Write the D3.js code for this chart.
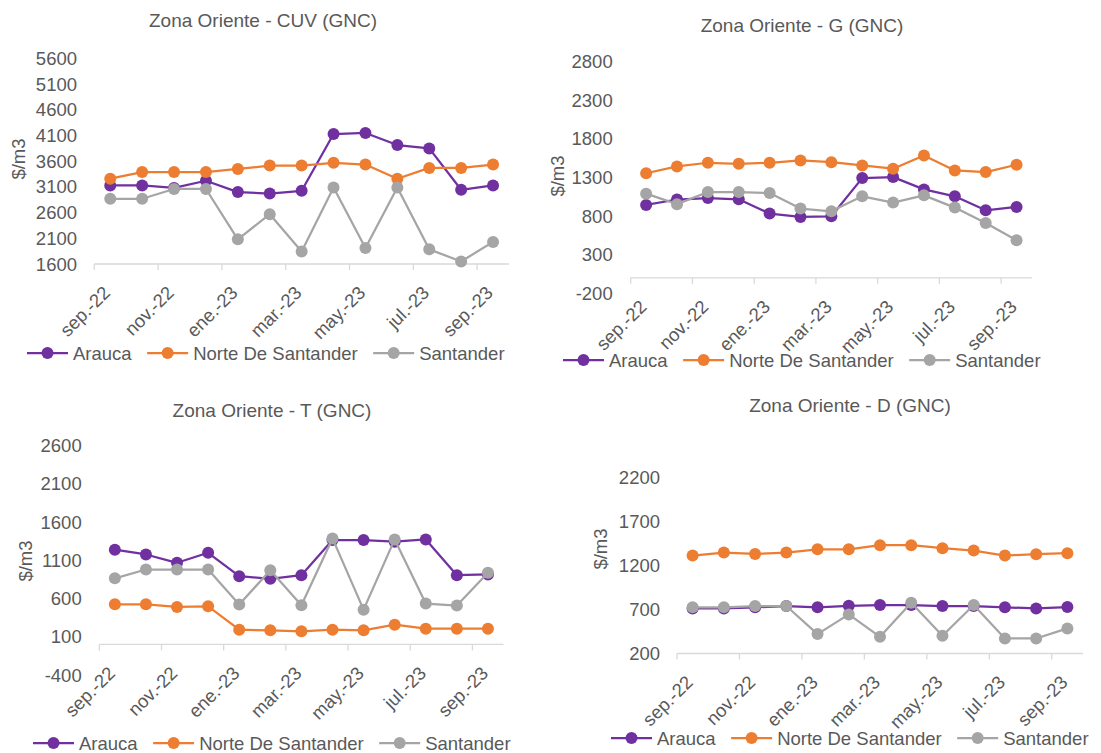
<!DOCTYPE html>
<html>
<head>
<meta charset="utf-8">
<script src="https://cdn.jsdelivr.net/npm/d3@7"></script>
<style>
  html, body { margin: 0; padding: 0; background: #ffffff; }
  svg { display: block; font-family: "Liberation Sans", Arial, sans-serif; }
</style>
</head>
<body>
<svg id="chart" width="1101" height="753"></svg>
<script>
// ---------- data ----------
const months = ["sep.-22","oct.-22","nov.-22","dic.-22","ene.-23","feb.-23","mar.-23","abr.-23","may.-23","jun.-23","jul.-23","ago.-23","sep.-23"];
const xTickLabels = ["sep.-22","nov.-22","ene.-23","mar.-23","may.-23","jul.-23","sep.-23"];
const seriesNames = ["Arauca","Norte De Santander","Santander"];

// CUV
const cuvArauca    = [3130,3130,3080,3220,3000,2970,3025,4130,4150,3915,3850,3045,3130];
const cuvNorte     = [3260,3390,3390,3390,3450,3515,3515,3570,3535,3260,3470,3470,3535];
const cuvSantander = [2870,2870,3060,3060,2080,2570,1845,3090,1910,3090,1885,1650,2030];
const cuvTicks = [1600,2100,2600,3100,3600,4100,4600,5100,5600];

// G
const gArauca    = [945,1015,1034,1017,833,789,798,1292,1305,1146,1056,875,918];
const gNorte     = [1355,1443,1491,1478,1491,1521,1499,1456,1414,1585,1392,1370,1465];
const gSantander = [1091,955,1112,1112,1099,897,862,1056,975,1069,910,711,488];
const gTicks = [-200,300,800,1300,1800,2300,2800];

// T
const tArauca    = [1240,1177,1068,1199,893,858,906,1366,1366,1344,1374,906,915];
const tNorte     = [525,525,490,499,193,184,171,193,184,258,206,206,206];
const tSantander = [865,980,980,980,521,972,512,1387,455,1374,534,508,937];
const tTicks = [-400,100,600,1100,1600,2100,2600];

// D
const dArauca    = [711,711,723,738,723,741,749,749,738,738,723,711,726];
const dNorte     = [1310,1344,1328,1344,1381,1381,1427,1427,1393,1366,1310,1325,1336];
const dSantander = [723,723,738,738,420,643,389,776,401,749,370,370,484];
const dTicks = [200,700,1200,1700,2200];

const colors = ["#7030A0","#ED7D31","#A5A5A5"];

// ---------- layout ----------
const charts = [
  { title: "Zona Oriente - CUV (GNC)", series: [cuvArauca,cuvNorte,cuvSantander], ticks: cuvTicks, base: 1600,
    x0: 94.3, x1: 509, yTop: 58.5, yBot: 264, labelX: 77, ylab: [18,159], titlePos: [263,20], legend: [27,353] },
  { title: "Zona Oriente - G (GNC)", series: [gArauca,gNorte,gSantander], ticks: gTicks, base: 0,
    x0: 630.7, x1: 1032, yTop: 61.7, yBot: 293.3, labelX: 612.7, ylab: [557,176], titlePos: [802,25], legend: [563,360] },
  { title: "Zona Oriente - T (GNC)", series: [tArauca,tNorte,tSantander], ticks: tTicks, base: 0,
    x0: 99.3, x1: 503.5, yTop: 445.7, yBot: 675, labelX: 81.7, ylab: [25,561], titlePos: [272,410], legend: [33,743] },
  { title: "Zona Oriente - D (GNC)", series: [dArauca,dNorte,dSantander], ticks: dTicks, base: 200,
    x0: 677, x1: 1083, yTop: 477, yBot: 653.5, labelX: 660, ylab: [600,549], titlePos: [850,405], legend: [611,738] }
];

const svg = d3.select("#chart");
const textColor = "#595959";
const axisColor = "#D9D9D9";

charts.forEach(cfg => {
  const g = svg.append("g");
  const x = d3.scaleBand().domain(months).range([cfg.x0, cfg.x1]).padding(0);
  const y = d3.scaleLinear().domain([cfg.ticks[0], cfg.ticks[cfg.ticks.length-1]]).range([cfg.yBot, cfg.yTop]);

  // title
  g.append("text").attr("x", cfg.titlePos[0]).attr("y", cfg.titlePos[1])
    .attr("text-anchor","middle").attr("dominant-baseline","central")
    .attr("font-size", 19).attr("fill", textColor).text(cfg.title);

  // y tick labels
  g.selectAll(".yt").data(cfg.ticks).enter().append("text")
    .attr("x", cfg.labelX).attr("y", d => y(d))
    .attr("text-anchor","end").attr("dominant-baseline","central")
    .attr("font-size", 18.5).attr("fill", textColor).text(d => d);

  // y label
  g.append("text").attr("transform", `translate(${cfg.ylab[0]},${cfg.ylab[1]}) rotate(-90)`)
    .attr("text-anchor","middle").attr("dominant-baseline","central")
    .attr("font-size", 18.5).attr("fill", textColor).text("$/m3");

  // x axis line
  const yb = y(cfg.base);
  g.append("line").attr("x1", cfg.x0).attr("x2", cfg.x1).attr("y1", yb).attr("y2", yb)
    .attr("stroke", axisColor).attr("stroke-width", 1.3);
  // ticks + labels
  xTickLabels.forEach(lbl => {
    const tx = x(lbl);
    g.append("line").attr("x1", tx).attr("x2", tx).attr("y1", yb).attr("y2", yb + 6)
      .attr("stroke", axisColor).attr("stroke-width", 1.3);
    g.append("text").attr("transform", `translate(${tx + 17},${yb + 30}) rotate(-45)`)
      .attr("text-anchor","end")
      .attr("font-size", 18.5).attr("fill", textColor).text(lbl);
  });

  // series
  const line = d3.line().x((d,i) => x(months[i]) + x.bandwidth()/2).y(d => y(d));
  cfg.series.forEach((vals, si) => {
    g.append("path").datum(vals).attr("d", line)
      .attr("fill","none").attr("stroke", colors[si]).attr("stroke-width", 2.25)
      .attr("stroke-linejoin","round");
    g.selectAll(null).data(vals).enter().append("circle")
      .attr("cx", (d,i) => x(months[i]) + x.bandwidth()/2)
      .attr("cy", d => y(d)).attr("r", 6).attr("fill", colors[si]);
  });

  // legend
  let lx = cfg.legend[0];
  const ly = cfg.legend[1];
  seriesNames.forEach((name, si) => {
    g.append("line").attr("x1", lx).attr("x2", lx + 41).attr("y1", ly).attr("y2", ly)
      .attr("stroke", colors[si]).attr("stroke-width", 2.25);
    g.append("circle").attr("cx", lx + 20.5).attr("cy", ly).attr("r", 6).attr("fill", colors[si]);
    const t = g.append("text").attr("x", lx + 46).attr("y", ly)
      .attr("dominant-baseline","central").attr("font-size", 18.5).attr("fill", textColor).text(name);
    lx = lx + 46 + t.node().getComputedTextLength() + 15.5;
  });
});
</script>
</body>
</html>
